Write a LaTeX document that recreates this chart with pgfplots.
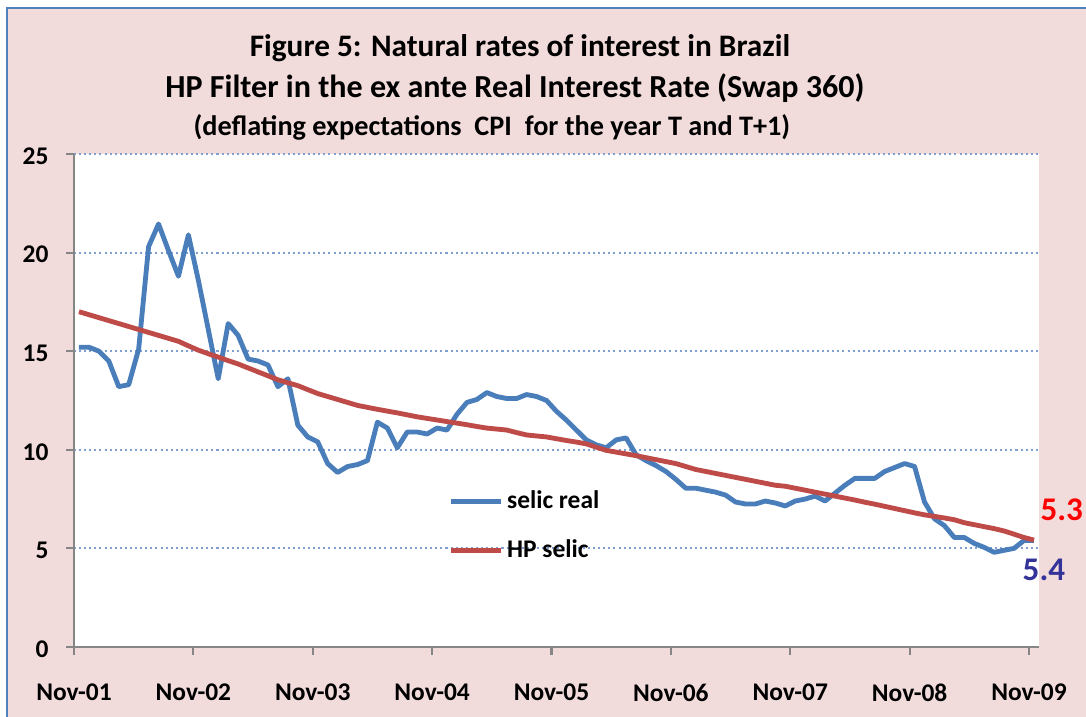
\documentclass[border=0pt]{standalone}
\usepackage{fontspec}
\setmainfont{Carlito}
\usepackage{graphicx}
\usepackage{pgfplots}
\pgfplotsset{compat=1.18}
\usepackage{pgfplotstable}
\definecolor{bgpink}{HTML}{F2DCDB}
\definecolor{selblue}{HTML}{4A7EBB}
\definecolor{hpred}{HTML}{BE4B48}
\definecolor{gridblue}{HTML}{7F9FD0}
\definecolor{axgray}{HTML}{868686}
\definecolor{lblblue}{HTML}{333399}
\definecolor{brdblue}{HTML}{4F81BD}

\pgfplotstableread{
m selic hp
0 15.2 17.0
1 15.2 16.85
2 15.0 16.7
3 14.5 16.55
4 13.2 16.4
5 13.3 16.25
6 15.1 16.1
7 20.3 15.95
8 21.45 15.8
9 20.1 15.65
10 18.8 15.5
11 20.9 15.27
12 18.6 15.05
13 16.1 14.87
14 13.6 14.7
15 16.4 14.52
16 15.8 14.35
17 14.6 14.15
18 14.5 13.95
19 14.3 13.75
20 13.2 13.55
21 13.6 13.4
22 11.25 13.25
23 10.65 13.05
24 10.4 12.85
25 9.3 12.7
26 8.85 12.55
27 9.15 12.4
28 9.25 12.25
29 9.45 12.15
30 11.4 12.05
31 11.1 11.96
32 10.1 11.87
33 10.9 11.77
34 10.9 11.67
35 10.8 11.59
36 11.1 11.51
37 11.0 11.43
38 11.8 11.35
39 12.4 11.27
40 12.55 11.18
41 12.9 11.1
42 12.7 11.05
43 12.6 11.0
44 12.6 10.87
45 12.8 10.75
46 12.7 10.7
47 12.5 10.65
48 11.95 10.56
49 11.5 10.47
50 11.0 10.39
51 10.5 10.3
52 10.25 10.13
53 10.1 9.97
54 10.5 9.88
55 10.6 9.79
56 9.75 9.7
57 9.45 9.6
58 9.2 9.5
59 8.9 9.4
60 8.5 9.3
61 8.05 9.15
62 8.05 9.0
63 7.95 8.9
64 7.85 8.8
65 7.7 8.7
66 7.35 8.6
67 7.25 8.5
68 7.25 8.4
69 7.4 8.3
70 7.3 8.2
71 7.15 8.15
72 7.4 8.05
73 7.5 7.95
74 7.65 7.85
75 7.4 7.75
76 7.8 7.65
77 8.2 7.55
78 8.55 7.45
79 8.55 7.34
80 8.55 7.24
81 8.9 7.13
82 9.1 7.02
83 9.3 6.91
84 9.15 6.8
85 7.35 6.7
86 6.5 6.62
87 6.15 6.54
88 5.55 6.45
89 5.55 6.3
90 5.25 6.2
91 5.05 6.1
92 4.8 6.0
93 4.9 5.88
94 5.0 5.72
95 5.4 5.55
96 5.4 5.42
}\datatable

\begin{document}
\begin{tikzpicture}
% canvas 15cm x 9.903cm (1086 x 717 px)
\useasboundingbox (0,0) rectangle (15cm,9.903cm);
\fill[white] (0,0) rectangle (15cm,9.903cm);
\fill[bgpink] (0.0967cm,0) rectangle (15cm,9.793cm);
\draw[brdblue, line width=0.8pt] (0.0967cm,0) -- (0.0967cm,9.793cm) -- (15cm,9.793cm);

\node[font=\fontsize{12.3}{14}\selectfont\bfseries] at (7.182cm,9.24cm) {Figure 5: Natural rates of interest in Brazil};
\node[font=\fontsize{12.6}{14}\selectfont\bfseries] at (7.113cm,8.688cm) {HP Filter in the ex ante Real Interest Rate (Swap 360)};
\node[font=\fontsize{11.1}{13}\selectfont\bfseries] at (6.795cm,8.149cm) {(deflating expectations\ \ CPI\ \ for the year T and T+1)};

\begin{axis}[
  at={(1.022cm,0.967cm)}, anchor=south west,
  scale only axis, width=13.328cm, height=6.809cm,
  xmin=-0.5, xmax=96.5, ymin=0, ymax=25,
  axis background/.style={fill=white},
  axis lines=left, axis line style={-, axgray, line width=0.8pt},
  clip=false,
  xtick={-0.5,11.5,23.5,35.5,47.5,59.5,71.5,83.5,95.5},
  xticklabels={Nov-01,Nov-02,Nov-03,Nov-04,Nov-05,Nov-06,Nov-07,Nov-08,Nov-09},
  ytick={0,5,10,15,20,25},
  tick align=outside, major tick length=3pt,
  tick style={axgray, line width=0.8pt},
  /pgf/number format/assume math mode=true,
  ticklabel style={font=\fontsize{10}{12}\selectfont\bfseries},
  xticklabel style={yshift=-8pt},
  yticklabel style={xshift=-3.5pt, yshift=-0.8pt},
  ymajorgrids, major grid style={gridblue, line width=0.8pt, dash pattern=on 0.8pt off 1.2pt},
  legend style={at={(0.3876,0.245)}, anchor=west, draw=none, fill=none,
    font=\fontsize{10}{12}\selectfont\bfseries, row sep=7.8pt, inner sep=0pt,
    nodes={inner sep=1.5pt}},
  legend cell align=left,
  legend image code/.code={\draw[#1] (0cm,0cm) -- (0.69cm,0cm);},
]
\addplot[selblue, line width=1.9pt, line join=round] table[x=m, y=selic] {\datatable};
\addlegendentry{selic real}
\addplot[hpred, line width=1.9pt, line join=round] table[x=m, y=hp] {\datatable};
\addlegendentry{HP selic}
\node[font=\fontsize{13}{15}\selectfont\bfseries, text=red] at (axis cs:98.8,6.95) {5.3};
\node[font=\fontsize{13}{15}\selectfont\bfseries, text=lblblue] at (axis cs:97.0,3.9) {5.4};
\end{axis}
\end{tikzpicture}
\end{document}
